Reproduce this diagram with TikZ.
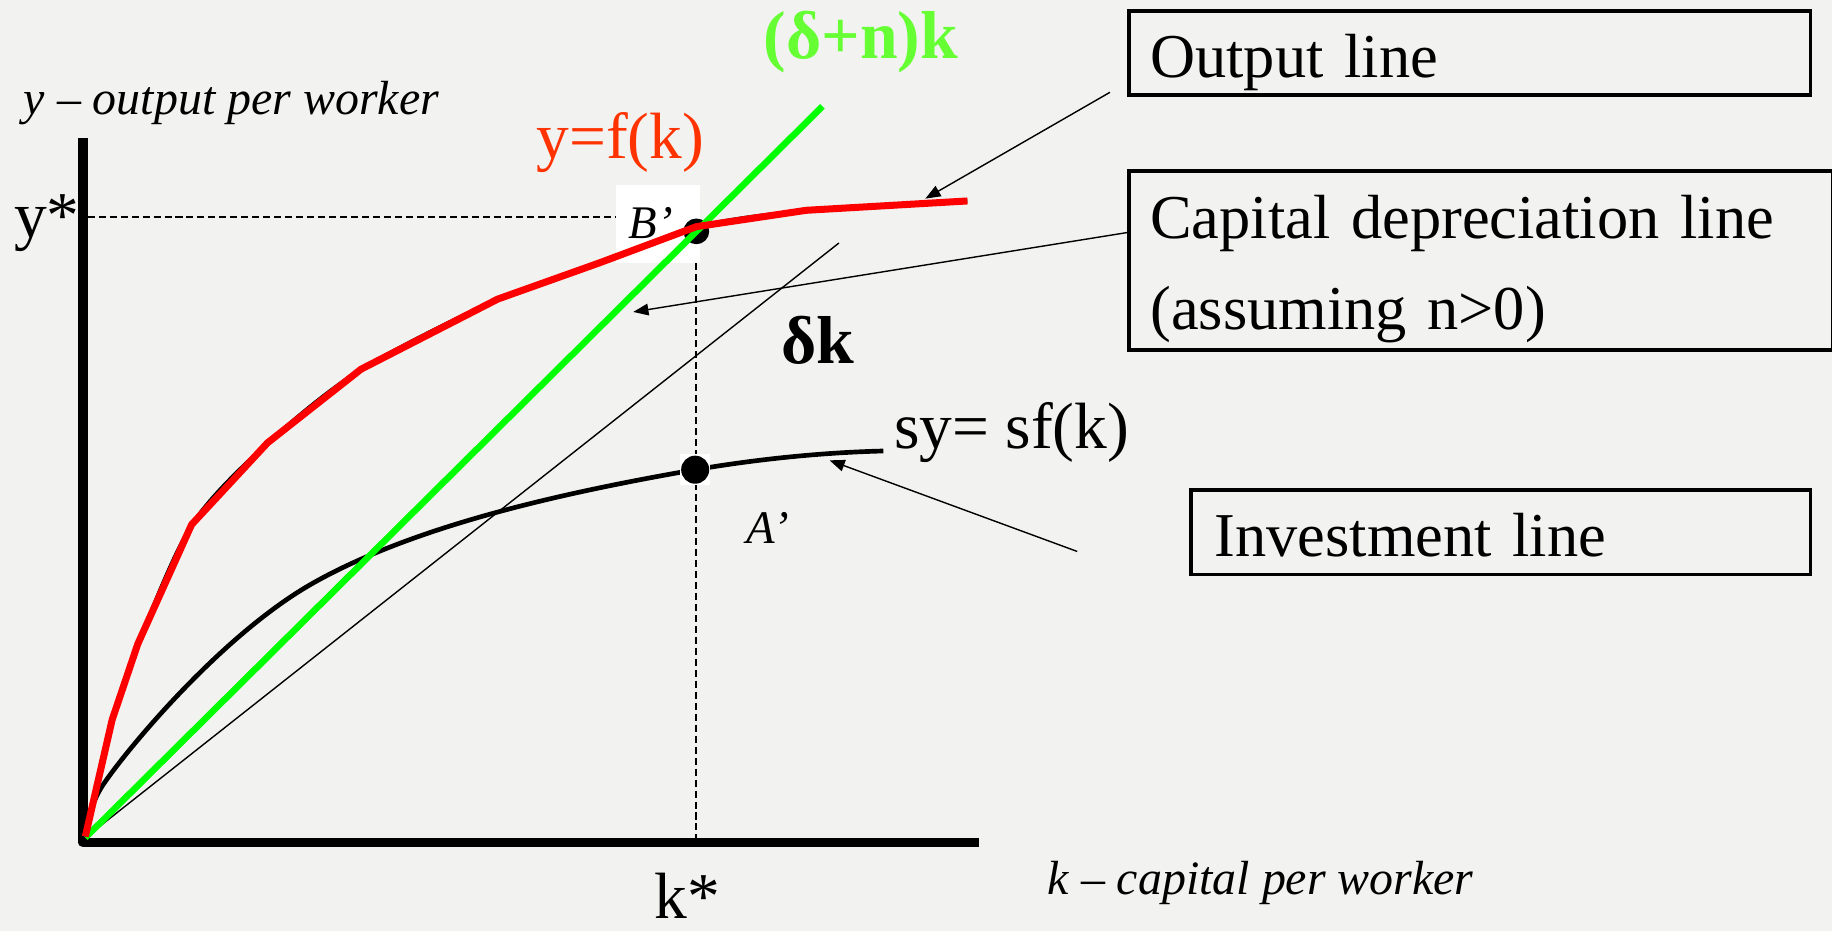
\documentclass[tikz,border=0pt]{standalone}
\usepackage{fontspec}
\setmainfont{Liberation Serif}
\usepackage{xcolor}
\definecolor{cBg}{HTML}{F2F2F0}
\definecolor{cOut}{HTML}{FF0000}
\definecolor{cOutTxt}{HTML}{FF3300}
\definecolor{cDep}{HTML}{00FF00}
\definecolor{cDepTxt}{HTML}{66FF33}
\usepackage{tikz}
\usetikzlibrary{positioning,arrows.meta}
\tikzset{
  node-box/.style={draw=black,line width=1.5pt,anchor=north west,align=left,
    inner xsep=9pt,inner ysep=0pt,font=\fontsize{26.7}{39}\selectfont},
  node-box-one/.style={node-box,minimum height=36pt,text height=21pt,text depth=0pt},
  axis-line/.style={line width=4pt,line join=round},
  guide-dash/.style={line width=0.7pt,dash pattern=on 3pt off 1.7pt},
  curve-out/.style={draw=cOut,line width=3pt,line join=round},
  curve-under/.style={draw=black,line width=1.4pt},
  curve-dep/.style={draw=cDep,line width=2.8pt},
  curve-inv/.style={draw=black,line width=2pt},
  line-thin/.style={draw=black,line width=0.6pt},
  arrow/.style={-{Triangle[length=6.5pt,width=5pt]},line width=0.6pt,draw=black},
  dot-pt/.style={circle,fill=black,inner sep=0pt,minimum size=11pt},
  white-pad/.style={fill=white,inner sep=0pt},
  lbl-big/.style={font=\fontsize{28}{34}\selectfont},
  lbl-bold/.style={font=\fontsize{29}{34}\selectfont\bfseries},
  lbl-axis/.style={font=\fontsize{20.5}{24}\selectfont\itshape},
  lbl-pt/.style={font=\fontsize{20}{24}\selectfont\itshape},
}

\begin{document}
\begin{tikzpicture}[x=0.5pt,y=-0.5pt]
  \path[use as bounding box,fill=cBg] (0,0) rectangle (1568,797);

  % boxes on the right
  \node[node-box-one,text width=273.5pt] (outbox) at (965,8) {Output line};
  \node[node-box,text width=283pt,minimum height=76.5pt] (capbox) at (965,145)
    {\rule{0pt}{26pt}Capital depreciation line\\(assuming n>0)};
  \node[node-box-one,text width=245pt,inner xsep=10pt] (invbox) at (1018,418)
    {Investment line};

  \coordinate (O) at (73,717);
  \coordinate (ytop) at (71,118);
  \coordinate (xend) at (838,721);

  % steady state points
  \node[white-pad,minimum width=36pt,minimum height=33.5pt] (Bbox) at (563,191.5) {};
  \node[dot-pt] (B) at (596,198) {};
  \coordinate (ydash) at (75,186);
  \draw[guide-dash] (ydash) -- (ydash -| Bbox.west);
  \draw[guide-dash] (Bbox.south -| 595.7,0) -- (595.7,719);

  \draw[axis-line] (ytop) -- (71,721) -- (xend);

  \draw[line-thin] (O) -- (718,208);
  \draw[curve-inv] (O) .. controls (75,700) and (80,684) .. (88,672)
    .. controls (108,642) and (190,543) .. (268,499)
    .. controls (355,450) and (480,422) .. (595,402)
    .. controls (660,391) and (715,387) .. (756,386);
  \draw[curve-dep] (O) -- (704,91);
  \draw[curve-under] plot[smooth,tension=0.5] coordinates {(73,716) (96,616) (118,551)
    (164,449) (229,379) (309,316) (426,256) (513,225) (596,194) (690,180) (828,172)};
  \draw[curve-out] (73,716) -- (96,616) -- (118,551) -- (164,449) -- (229,379)
    -- (309,316) -- (426,256) -- (513,225) -- (596,194) -- (690,180) -- (828,172);

  \node[white-pad,minimum size=13pt] (Asq) at (595,402) {};
  \node[dot-pt,minimum size=12pt] (A) at (595,402) {};

  % pointers from the boxes
  \coordinate (outtail) at (950,79);
  \coordinate (outtip) at (792,170);
  \coordinate (captail) at (965,199);
  \coordinate (captip) at (542,267);
  \coordinate (invtail) at (922,472);
  \coordinate (invtip) at (710,394);
  \draw[arrow] (outtail) -- (outtip);
  \draw[arrow] (captail) -- (captip);
  \draw[arrow] (invtail) -- (invtip);

  % labels
  \node[lbl-axis] (ylab) at (198,88) {y – output per worker};
  \node[lbl-axis] (klab) at (1079,756) {k – capital per worker};
  \node[lbl-big] (ystar) at (40,191) {y*};
  \node[lbl-big,inner sep=0pt] (kstar) at (588,767) {k*};
  \node[lbl-big,text=cOutTxt] (flab) at (531,122) {y=f(k)};
  \node[lbl-bold,text=cDepTxt] (dnlab) at (737,36) {(δ+n)k};
  \node[lbl-bold] (dlab) at (700,291) {δk};
  \node[lbl-big] (slab) at (866,370) {sy= sf(k)};
  \node[lbl-pt] (Blab) at (557,191) {B’};
  \node[lbl-pt] (Alab) at (657,452) {A’};
\end{tikzpicture}
\end{document}
